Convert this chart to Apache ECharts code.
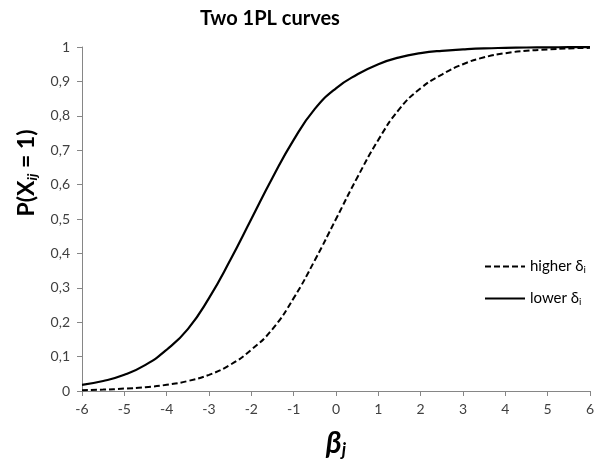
<!DOCTYPE html>
<html>
<head>
<meta charset="utf-8">
<script src="https://cdn.jsdelivr.net/npm/echarts@6/dist/echarts.min.js"></script>
<style>html,body{margin:0;padding:0;background:#fff}#c{width:605px;height:464px}</style>
</head>
<body>
<div id="c"></div>
<script>
var titleText = 'Two 1PL curves';
var xValues = [-6,-5.5,-5,-4.5,-4,-3.5,-3,-2.5,-2,-1.5,-1,-0.5,0,0.5,1,1.5,2,2.5,3,3.5,4,4.5,5,5.5,6];
var higherDelta = [0.0025,0.004,0.007,0.011,0.018,0.029,0.047,0.076,0.12,0.18,0.27,0.38,0.5,0.62,0.73,0.82,0.88,0.92,0.95,0.97,0.982,0.989,0.993,0.996,0.9975];
var lowerDelta = [0.018,0.029,0.047,0.076,0.12,0.18,0.27,0.38,0.5,0.62,0.73,0.82,0.88,0.92,0.95,0.97,0.982,0.989,0.993,0.996,0.9975,0.9985,0.999,0.9995,0.9997];
var seriesNames = ['higher δ', 'lower δ'];

var FONT = 'Lato, "Open Sans", sans-serif';
function pairs(ys){ return xValues.map(function(x,i){ return [x, ys[i]]; }); }

var chart = echarts.init(document.getElementById('c'), null, {renderer:'canvas'});
chart.setOption({
  animation: false,
  backgroundColor: '#fff',
  title: {
    text: titleText, left: 265, top: 4, textAlign: 'center',
    textStyle: {fontFamily: FONT, fontWeight: 'bold', fontSize: 20, color: '#000'}
  },
  grid: {left: 82, right: 15, top: 47, bottom: 73, containLabel: false},
  legend: {
    orient: 'vertical', left: 479, top: 254, itemWidth: 40, itemHeight: 12, itemGap: 16,
    itemStyle: {opacity: 0},
    textStyle: {fontFamily: FONT, fontSize: 15, color: '#000',
      rich: {a: {fontFamily: FONT, fontSize: 15, color: '#000'}, s: {fontFamily: FONT, fontSize: 10, color: '#000', padding: [7,0,0,0]}}},
    formatter: function(n){ return '{a|' + n + '}{s|i}'; },
    data: seriesNames
  },
  graphic: [{
    type: 'text', x: 27, y: 173, rotation: Math.PI / 2,
    style: {
      text: '{a|P(X}{s|ij}{a| = 1)}', align: 'center', verticalAlign: 'middle',
      rich: {
        a: {fontFamily: FONT, fontSize: 23, fontWeight: 'bold', fill: '#000'},
        s: {fontFamily: FONT, fontSize: 14, fontWeight: 'bold', fontStyle: 'italic', fill: '#000', padding: [11,0,0,0]}
      }
    }
  }],
  xAxis: {
    type: 'value', min: -6, max: 6, interval: 1,
    name: '{b|β}{s|j}', nameLocation: 'middle', nameGap: 36,
    nameTextStyle: {rich: {
      b: {fontFamily: FONT, fontSize: 30, fontWeight: 'bold', fontStyle: 'italic', color: '#000'},
      s: {fontFamily: FONT, fontSize: 18, fontWeight: 'bold', fontStyle: 'italic', color: '#000', padding: [14,0,0,0]}
    }},
    axisLine: {onZero: false, lineStyle: {color: '#868686', width: 1}},
    axisTick: {show: true, length: 5, lineStyle: {color: '#868686'}},
    axisLabel: {fontFamily: FONT, fontSize: 14, color: '#404040', margin: 11},
    splitLine: {show: false}
  },
  yAxis: {
    type: 'value', min: 0, max: 1, interval: 0.1,
    axisLine: {show: true, onZero: false, lineStyle: {color: '#868686', width: 1}},
    axisTick: {show: true, length: 5, lineStyle: {color: '#868686'}},
    axisLabel: {fontFamily: FONT, fontSize: 14, color: '#404040', margin: 12,
      formatter: function(v){ var r = Math.round(v*10)/10; return (r===0||r===1) ? String(r) : r.toFixed(1).replace('.', ','); }},
    splitLine: {show: false}
  },
  series: [
    {name: seriesNames[0], type: 'line', data: pairs(higherDelta), smooth: true, symbol: 'none',
     lineStyle: {color: '#000', width: 2, type: [6,3]}, itemStyle: {color: '#000'}},
    {name: seriesNames[1], type: 'line', data: pairs(lowerDelta), smooth: true, symbol: 'none',
     lineStyle: {color: '#000', width: 2.2, type: 'solid'}, itemStyle: {color: '#000'}}
  ]
});
</script>
</body>
</html>
